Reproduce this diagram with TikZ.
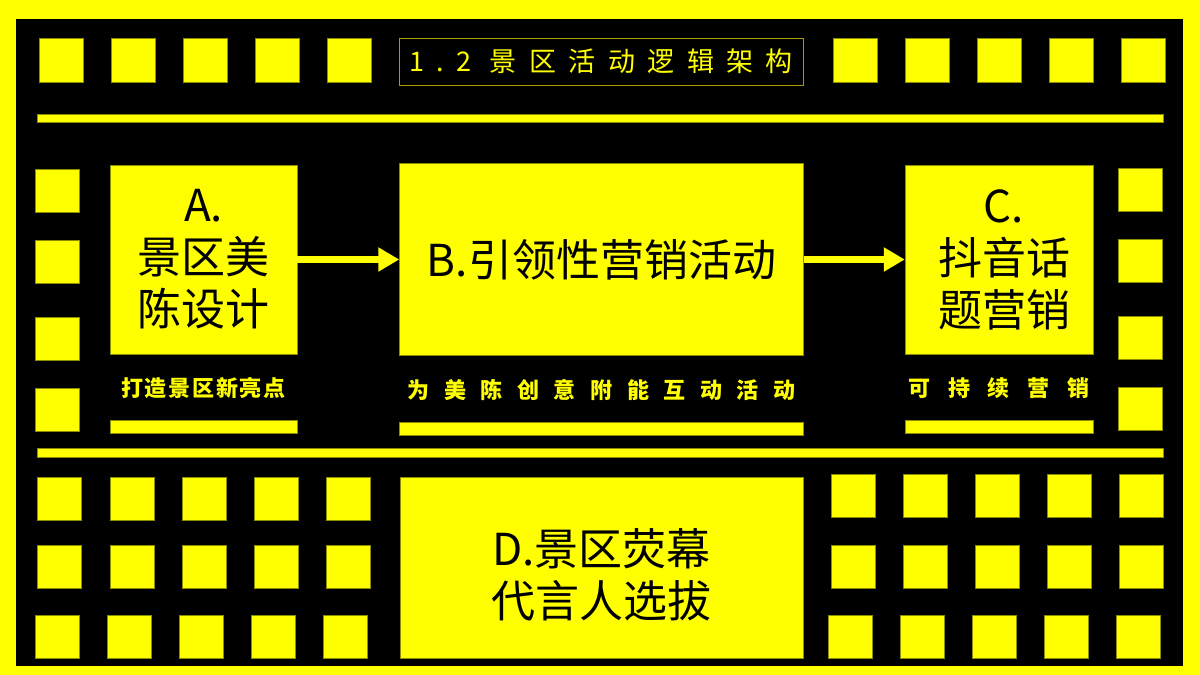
\documentclass[tikz,border=0pt]{standalone}
\usepackage{fontspec}
\setmainfont{Noto Sans CJK SC}
\usetikzlibrary{arrows.meta,positioning}
\definecolor{filmyellow}{HTML}{FFFF00}
\definecolor{filmedge}{HTML}{8C8C00}
\definecolor{titleedge}{HTML}{A89A00}

\tikzset{
  film/.style={fill=filmyellow,draw=filmedge,line width=0.5pt},
  stage/.style={rectangle,fill=filmyellow,draw=filmedge,line width=0.5pt,inner sep=0pt,
    align=center,text=black,font=\fontsize{44}{52}\selectfont},
  stagetext/.style={inner sep=0pt,align=center,text=black,font=\fontsize{44}{52}\selectfont},
  caption/.style={inner sep=0pt,text=filmyellow,
    font=\fontsize{22}{26}\selectfont\bfseries\addfontfeature{LetterSpace=#1}},
  caption/.default=0,
  bar/.style={rectangle,fill=filmyellow,draw=filmedge,line width=0.5pt,inner sep=0pt,minimum height=13pt},
  flow/.style={->,draw=filmyellow,line width=6.5pt}
}

\begin{document}
\begin{tikzpicture}[x=1pt,y=-1pt,>={Triangle[length=21pt,width=23pt]},node distance=23pt]
  \useasboundingbox (0,0) rectangle (1200,675);
  % film frame
  \fill[filmyellow] (0,0) rectangle (1200,675);
  \fill[black] (16,19) rectangle (1183,666);
  \foreach \x in {39,111,183,255,327,833,905,977,1049,1121}
    \draw[film] (\x,38) rectangle ++(44,44);
  \foreach \y in {169,240,317,388} {
    \draw[film] (35,\y) rectangle ++(44,43);
    \draw[film] (1118,\y-1) rectangle ++(44,43);
  }
  \foreach \y in {477,545}
    \foreach \x in {37,110,182,254,326}
      \draw[film] (\x,\y) rectangle ++(44,43);
  \foreach \x in {35,107,179,251,323}
    \draw[film] (\x,615) rectangle ++(44,43);
  \foreach \y in {474,545}
    \foreach \x in {831,903,975,1047,1119}
      \draw[film] (\x,\y) rectangle ++(44,43);
  \foreach \x in {828,900,972,1044,1116}
    \draw[film] (\x,615) rectangle ++(44,43);
  \draw[film] (37,114) rectangle (1163,122);
  \draw[film] (37,448) rectangle (1163,457);

  % title
  \node[draw=titleedge,line width=0.6pt,minimum width=404pt,minimum height=47pt,text=filmyellow,
    font=\fontsize{27}{30}\selectfont\addfontfeature{LetterSpace=46}] (title) at (601,61.5)
    {1.2 景区活动逻辑架构};

  % stages
  \node[stage,minimum width=187pt,minimum height=189pt] (A) at (203.5,259.5) {A.\\景区美\\陈设计};
  \node[stage,minimum width=404pt,minimum height=192pt,right=102pt of A] (B) {B.引领性营销活动};
  \node[stage,minimum width=188pt,minimum height=189pt,right=101pt of B] (C) {};
  \node[stagetext] (Ctext) at ([xshift=5pt]C.center) {C.\\抖音话\\题营销};
  \node[stage,minimum width=403pt,minimum height=181pt,below=121pt of B] (D) {};
  \node[stagetext] (Dtext) at ([yshift=-7pt]D.center) {D.景区荧幕\\代言人选拔};

  % captions and bars
  \node[caption=8,below=of A] (Acap) {打造景区新亮点};
  \node[caption=66,below=of B] (Bcap) {为美陈创意附能互动活动};
  \node[caption=80,below=of C] (Ccap) {可持续营销};
  \node[bar,minimum width=187pt,below=66pt of A] (Abar) {};
  \node[bar,minimum width=404pt,below=66pt of B] (Bbar) {};
  \node[bar,minimum width=188pt,below=66pt of C] (Cbar) {};

  \draw[flow] (A) -- (B);
  \draw[flow] (B) -- (C);
\end{tikzpicture}
\end{document}
